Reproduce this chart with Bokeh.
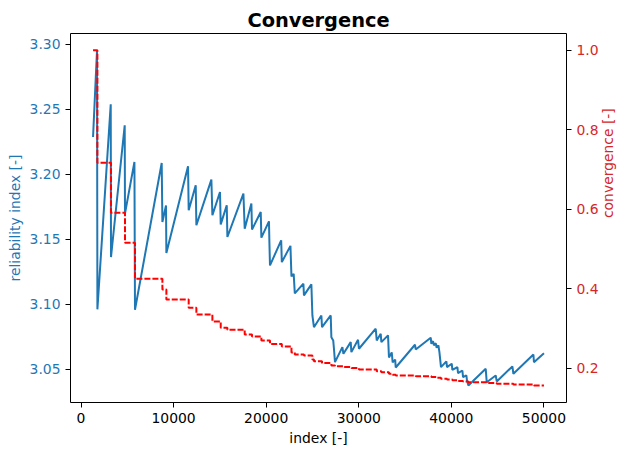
import math
from bokeh.plotting import figure
from bokeh.models import Range1d, LinearAxis, FixedTicker
from bokeh.embed import file_html
from bokeh.resources import INLINE

# Reliability index (blue line)
beta_x = [1300, 1730, 1770, 3210, 3240, 4720, 4750, 5770, 5830, 8715, 8790, 9180, 9220,
          11560, 11630, 12390, 12460, 14080, 14190, 15010, 15090, 15740, 15810, 17540, 17680,
          18400, 18470, 19410, 19480, 20300, 20350, 20410, 21620, 21690, 22620, 22730, 22970,
          23090, 24020, 24080, 24880, 24990, 25160, 25960, 26030, 26970, 27040, 27240, 27320,
          27430, 28230, 28340, 29130, 29200, 29920, 30020, 31830, 31940, 32370, 32440, 33160,
          33260, 33560, 33660, 33930, 33990, 36070, 36150, 37770, 37840, 38020, 38120, 38310,
          38410, 38600, 38710, 38880, 39460, 39530, 40040, 40110, 40650, 40720, 41190, 41260,
          41620, 41690, 41840, 43710, 43820, 44790, 44900, 46590, 46700, 48860, 48920, 50000]
beta_y = [3.2287, 3.2954, 3.0962, 3.2538, 3.1364, 3.2377, 3.1698, 3.2095, 3.0959, 3.2087,
          3.1633, 3.1760, 3.1395, 3.2062, 3.1723, 3.1915, 3.1608, 3.1959, 3.1685, 3.1864,
          3.1615, 3.1762, 3.1518, 3.1852, 3.1582, 3.1775, 3.1575, 3.1710, 3.1513, 3.1638,
          3.1470, 3.1300, 3.1492, 3.1325, 3.1450, 3.1215, 3.1235, 3.1085, 3.1159, 3.1069,
          3.1154, 3.0915, 3.0825, 3.0915, 3.0825, 3.0915, 3.0748, 3.0723, 3.0659, 3.0556,
          3.0672, 3.0620, 3.0710, 3.0633, 3.0728, 3.0659, 3.0813, 3.0723, 3.0774, 3.0710,
          3.0762, 3.0592, 3.0631, 3.0554, 3.0575, 3.0515, 3.0690, 3.0654, 3.0744, 3.0697,
          3.0718, 3.0685, 3.0702, 3.0667, 3.0685, 3.0633, 3.0518, 3.0562, 3.0518, 3.0544,
          3.0497, 3.0518, 3.0472, 3.0492, 3.0441, 3.0454, 3.0415, 3.0377, 3.0505, 3.0402,
          3.0454, 3.0408, 3.0523, 3.0467, 3.0615, 3.0556, 3.0625]

# Convergence (red dashed step)
conv_x = [1300, 1770, 3240, 4750, 5830, 8790, 9220, 11630, 12460, 14190, 15090, 15810,
          17680, 18470, 19480, 20410, 21690, 22730, 23090, 24080, 24990, 25160, 26030,
          27040, 27430, 28340, 29200, 30020, 31940, 32440, 33260, 33660, 33990, 36150,
          37840, 38410, 38880, 39530, 40110, 40720, 41260, 41840, 43820, 44900, 46700,
          48920, 50000]
conv_y = [1.0, 0.717, 0.591, 0.516, 0.425, 0.398, 0.373, 0.352, 0.335, 0.318, 0.302, 0.297,
          0.285, 0.280, 0.270, 0.261, 0.255, 0.240, 0.2345, 0.232, 0.222, 0.2176, 0.2135,
          0.207, 0.205, 0.203, 0.201, 0.197, 0.1925, 0.190, 0.186, 0.184, 0.182, 0.180,
          0.178, 0.176, 0.1735, 0.1716, 0.170, 0.168, 0.1665, 0.1649, 0.163, 0.161, 0.159,
          0.1565, 0.1565]

x_ticks = [0, 10000, 20000, 30000, 40000, 50000]
left_ticks = [3.05, 3.10, 3.15, 3.20, 3.25, 3.30]
right_ticks = [0.2, 0.4, 0.6, 0.8, 1.0]

BLUE = "#1f77b4"
TRED = "#d62728"
FONT = "DejaVu Sans"
FS = "13.9px"

p = figure(frame_width=496, frame_height=369, output_backend="svg", toolbar_location=None,
           x_range=Range1d(-1135, 52435), y_range=Range1d(3.0246, 3.3082),
           min_border_left=70, min_border_right=0, min_border_top=33, min_border_bottom=0)
p.extra_y_ranges = {"conv": Range1d(0.114, 1.042)}

p.title.text = "Convergence"
p.title.align = "center"
p.title.text_font = FONT
p.title.text_font_size = "19.4px"
p.title.text_font_style = "bold"
p.title.text_color = "black"
p.title.standoff = 4

p.grid.visible = False
p.outline_line_color = "black"
p.outline_line_width = 1
p.background_fill_color = "white"
p.border_fill_color = "white"

p.line(beta_x, beta_y, line_color=BLUE, line_width=2)
p.step(conv_x, conv_y, mode="after", line_color="#ff0000", line_width=2,
       line_dash="6 2", y_range_name="conv")

right = LinearAxis(y_range_name="conv")
p.add_layout(right, "right")

def style(ax, ticks, labels, color, label, label_color, standoff):
    ax.ticker = FixedTicker(ticks=ticks)
    ax.major_label_overrides = {t: l for t, l in zip(ticks, labels)}
    ax.major_label_text_color = color
    ax.major_label_text_font = FONT
    ax.major_label_text_font_size = FS
    ax.major_tick_in = 0
    ax.major_tick_out = 5
    ax.minor_tick_in = 0
    ax.minor_tick_out = 0
    ax.major_label_standoff = 5
    ax.axis_line_color = None
    ax.major_tick_line_color = "black"
    ax.axis_label = label
    ax.axis_label_text_color = label_color
    ax.axis_label_text_font = FONT
    ax.axis_label_text_font_size = FS
    ax.axis_label_text_font_style = "normal"
    ax.axis_label_standoff = standoff

style(p.xaxis[0], x_ticks, [str(t) for t in x_ticks], "black", "index [-]", "black", 4)
style(p.yaxis[0], left_ticks, ["%.2f" % t for t in left_ticks], BLUE,
      "reliability index [-]", BLUE, 4)
style(right, right_ticks, ["%.1f" % t for t in right_ticks], TRED,
      "convergence [-]", TRED, 6)
right.axis_label_orientation = math.pi / 2

open("out.html", "w").write(file_html(p, INLINE))
